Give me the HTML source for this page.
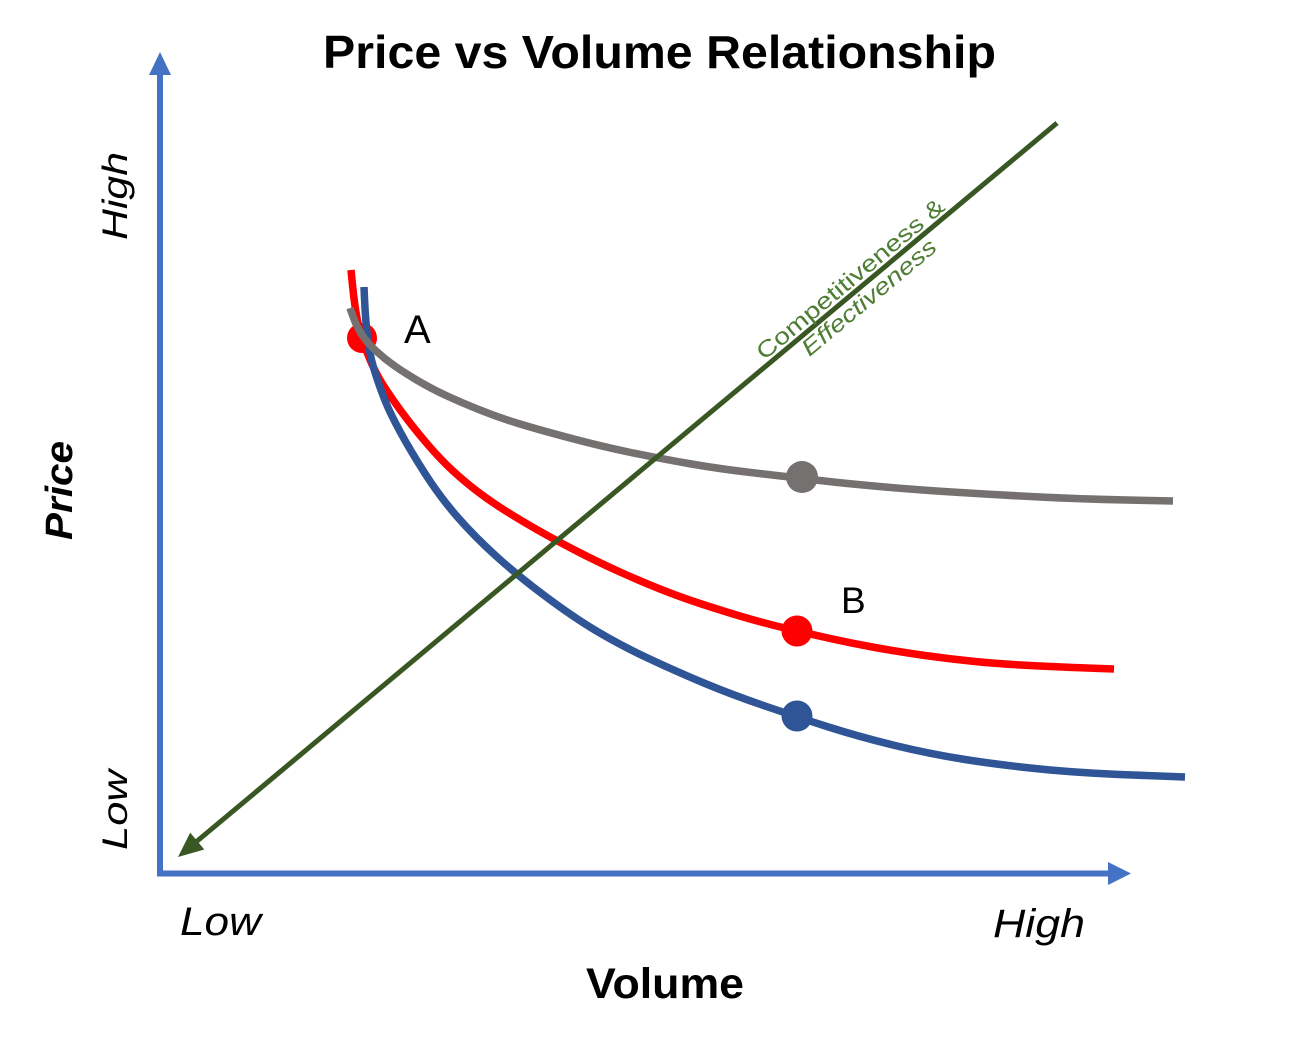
<!DOCTYPE html>
<html>
<head>
<meta charset="utf-8">
<style>
  html,body{margin:0;padding:0;background:#fff;}
  svg{display:block;}
  text{font-family:"Liberation Sans",sans-serif;}
</style>
</head>
<body>
<svg width="1300" height="1042" viewBox="0 0 1300 1042" xmlns="http://www.w3.org/2000/svg">
  <rect width="1300" height="1042" fill="#ffffff"/>

  <!-- Title -->
  <text x="323" y="68" font-size="46" font-weight="bold" fill="#000" textLength="673" lengthAdjust="spacingAndGlyphs">Price vs Volume Relationship</text>

  <!-- Axes -->
  <g stroke="#4472C4" stroke-width="6" fill="none">
    <line x1="160" y1="876" x2="160" y2="70"/>
    <line x1="157" y1="873.5" x2="1112" y2="873.5"/>
  </g>
  <polygon points="160,52 149,75 171,75" fill="#4472C4"/>
  <polygon points="1131,873.5 1108,862 1108,885" fill="#4472C4"/>

  <!-- Axis labels -->
  <text x="180" y="935" font-size="40" font-style="italic" fill="#000" textLength="81" lengthAdjust="spacingAndGlyphs">Low</text>
  <text x="993" y="937" font-size="40" font-style="italic" fill="#000" textLength="92" lengthAdjust="spacingAndGlyphs">High</text>
  <text x="586" y="998" font-size="43" font-weight="bold" fill="#000" textLength="158" lengthAdjust="spacingAndGlyphs">Volume</text>

  <text transform="translate(127,240) rotate(-90)" font-size="35" font-style="italic" fill="#000" textLength="88" lengthAdjust="spacingAndGlyphs">High</text>
  <text transform="translate(127,850) rotate(-90)" font-size="35" font-style="italic" fill="#000" textLength="80" lengthAdjust="spacingAndGlyphs">Low</text>
  <text transform="translate(72,540) rotate(-90)" font-size="38" font-style="italic" font-weight="bold" fill="#000" textLength="99" lengthAdjust="spacingAndGlyphs">Price</text>

  <!-- Red curve -->
  <path fill="none" stroke="#FF0000" stroke-width="7.5" stroke-linejoin="round"
    d="M351,270 L352.5,285 Q354,300 356,312.5 Q358,325 361,335 Q364,345 369.5,358.5 Q375,372 382.5,384 Q390,396 401,411 Q412,426 426,442.5 Q440,459 452.5,470.5 Q465,482 477.5,491.5 Q490,501 505,510.5 Q520,520 538.5,530.5 Q557,541 578.5,552 Q600,563 620,572 Q640,581 660,589 Q680,597 701.5,604 Q723,611 741.5,616.5 Q760,622 778.5,626.5 Q797,631 823.5,637 Q850,643 875,647.5 Q900,652 925,655.5 Q950,659 975,661.5 Q1000,664 1030,665.5 Q1060,667 1087,668 L1114,669"/>
  <circle cx="362" cy="338" r="15" fill="#FF0000"/>
  <circle cx="797" cy="631" r="15.5" fill="#FF0000"/>

  <!-- Blue curve -->
  <path fill="none" stroke="#2F5597" stroke-width="7.5" stroke-linejoin="round"
    d="M364,287 L364.5,298.5 Q365,310 366,322.5 Q367,335 369,347.5 Q371,360 375.5,374 Q380,388 385,400.5 Q390,413 400,431.5 Q410,450 425,473.5 Q440,497 457.5,517 Q475,537 496,556 Q517,575 545,596 Q573,617 596.5,631 Q620,645 646.5,657.5 Q673,670 701.5,682 Q730,694 763.5,705.5 Q797,717 828.5,727 Q860,737 895,745.5 Q930,754 965,759.5 Q1000,765 1040,769 Q1080,773 1132.5,775 L1185,777"/>
  <circle cx="797" cy="716" r="15.5" fill="#2F5597"/>

  <!-- Gray curve -->
  <path fill="none" stroke="#767171" stroke-width="7.5" stroke-linejoin="round"
    d="M350,308 L353,316.5 Q356,325 360.5,332.5 Q365,340 372.5,347.5 Q380,355 390,362.5 Q400,370 415,379 Q430,388 445,395 Q460,402 480,410 Q500,418 520,424 Q540,430 570,438 Q600,446 628.5,452 Q657,458 688.5,463.5 Q720,469 755,473 Q790,477 820,480.5 Q850,484 885,487 Q920,490 960,492.5 Q1000,495 1040,497 Q1080,499 1126.5,500 L1173,501"/>
  <circle cx="802" cy="477" r="16" fill="#767171"/>

  <!-- Green line -->
  <line x1="1057" y1="123" x2="196" y2="842" stroke="#385723" stroke-width="5"/>
  <polygon points="178,857 204.3,849.5 190.2,832.6" fill="#385723"/>

  <!-- Green label -->
  <g transform="translate(767.5,364.7) rotate(-39.85)" fill="#4E7D34">
    <text x="0" y="-5" font-size="23" textLength="237" lengthAdjust="spacingAndGlyphs">Competitiveness  &amp;</text>
    <text x="37" y="21" font-size="23" font-style="italic" textLength="168" lengthAdjust="spacingAndGlyphs">Effectiveness</text>
  </g>

  <!-- Point labels -->
  <text x="404" y="343" font-size="40" fill="#000">A</text>
  <text x="841" y="613" font-size="37" fill="#000">B</text>
</svg>
</body>
</html>
